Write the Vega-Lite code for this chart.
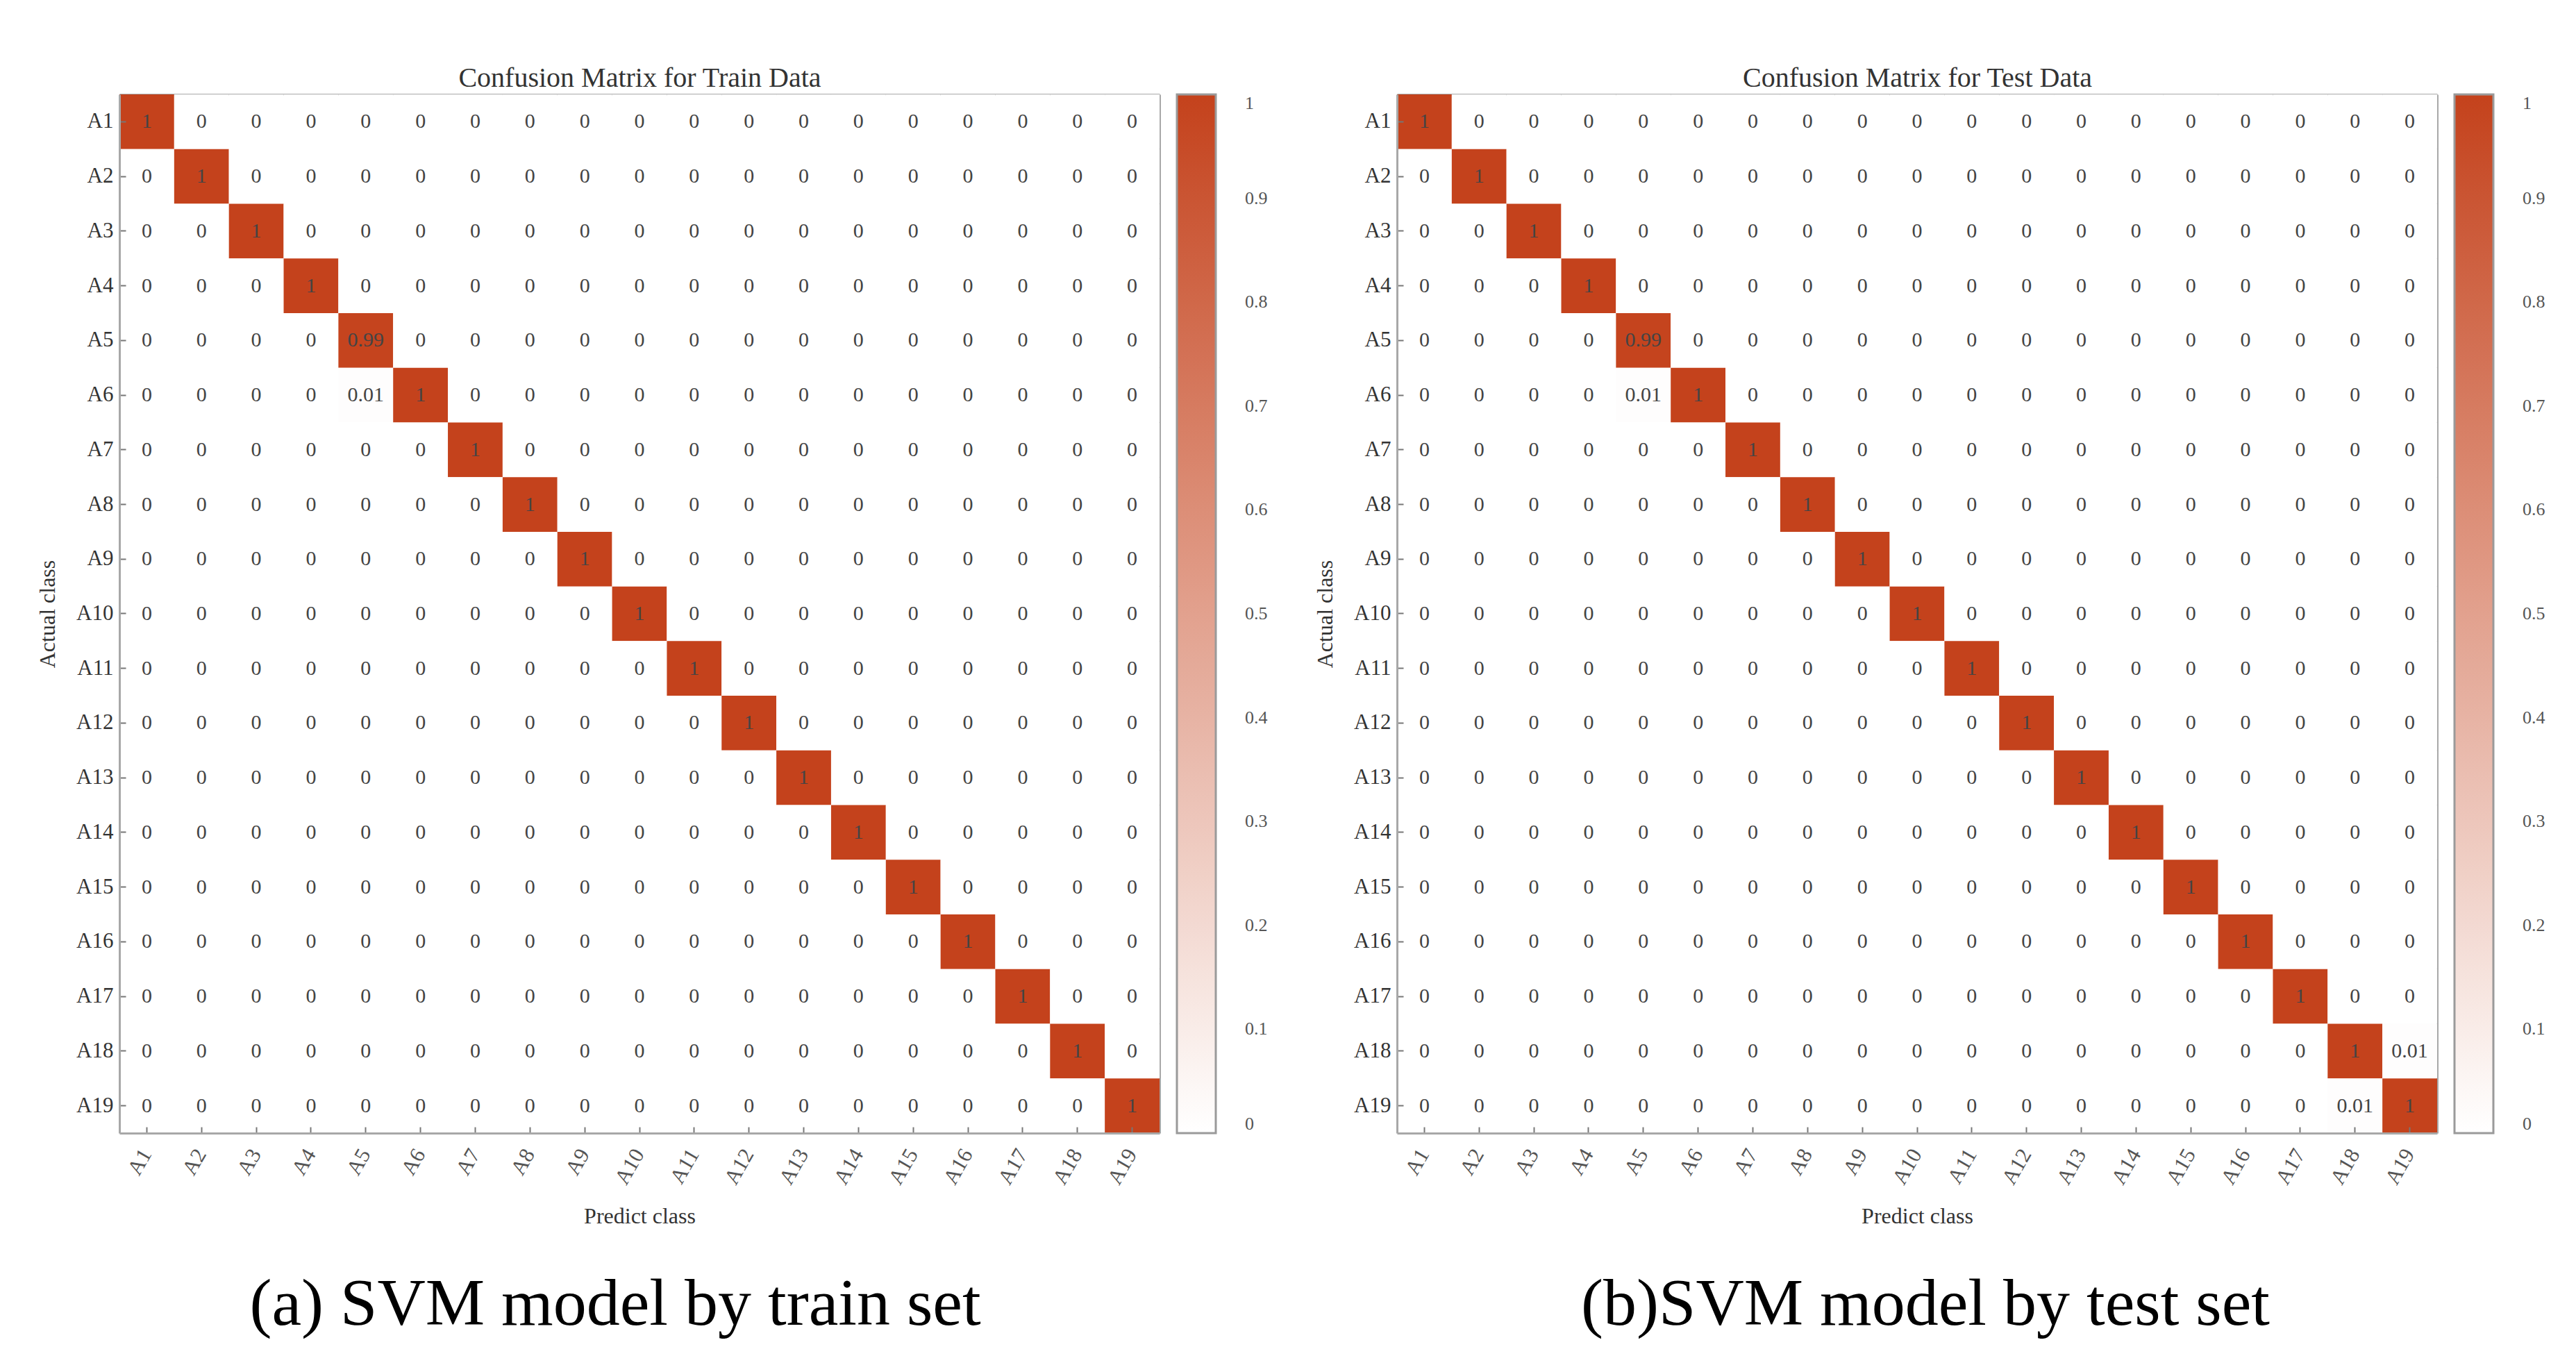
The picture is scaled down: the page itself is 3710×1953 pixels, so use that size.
{
"$schema":"https://vega.github.io/schema/vega-lite/v6.json",
"background":"white",
"padding":{"left":52,"top":92,"right":5,"bottom":5},
"config":{
"font":"Liberation Serif",
"view":{"stroke":null},
"axis":{"labelFont":"Liberation Serif","titleFont":"Liberation Serif","labelFontSize":31,"titleFontSize":32,"labelColor":"#333","titleColor":"#333","titleFontWeight":"normal","domainColor":"#a8a8a8","domainWidth":3,"tickColor":"#777","tickWidth":2,"tickSize":-9,"grid":false,"labelPadding":18},
"legend":{"gradientVerticalMaxLength":2000,"gradientVerticalMinLength":10,"labelFont":"Liberation Serif","labelFontSize":26,"labelColor":"#555","gradientStrokeColor":"#9a9a9a","gradientStrokeWidth":3,"labelOverlap":false,"offset":24}
},
"datasets":{"cells":[
{"act":"A1","pred":"A1","train":1,"test":1},{"act":"A1","pred":"A2","train":0,"test":0},{"act":"A1","pred":"A3","train":0,"test":0},{"act":"A1","pred":"A4","train":0,"test":0},{"act":"A1","pred":"A5","train":0,"test":0},{"act":"A1","pred":"A6","train":0,"test":0},{"act":"A1","pred":"A7","train":0,"test":0},{"act":"A1","pred":"A8","train":0,"test":0},{"act":"A1","pred":"A9","train":0,"test":0},{"act":"A1","pred":"A10","train":0,"test":0},{"act":"A1","pred":"A11","train":0,"test":0},{"act":"A1","pred":"A12","train":0,"test":0},{"act":"A1","pred":"A13","train":0,"test":0},{"act":"A1","pred":"A14","train":0,"test":0},{"act":"A1","pred":"A15","train":0,"test":0},{"act":"A1","pred":"A16","train":0,"test":0},{"act":"A1","pred":"A17","train":0,"test":0},{"act":"A1","pred":"A18","train":0,"test":0},{"act":"A1","pred":"A19","train":0,"test":0},
{"act":"A2","pred":"A1","train":0,"test":0},{"act":"A2","pred":"A2","train":1,"test":1},{"act":"A2","pred":"A3","train":0,"test":0},{"act":"A2","pred":"A4","train":0,"test":0},{"act":"A2","pred":"A5","train":0,"test":0},{"act":"A2","pred":"A6","train":0,"test":0},{"act":"A2","pred":"A7","train":0,"test":0},{"act":"A2","pred":"A8","train":0,"test":0},{"act":"A2","pred":"A9","train":0,"test":0},{"act":"A2","pred":"A10","train":0,"test":0},{"act":"A2","pred":"A11","train":0,"test":0},{"act":"A2","pred":"A12","train":0,"test":0},{"act":"A2","pred":"A13","train":0,"test":0},{"act":"A2","pred":"A14","train":0,"test":0},{"act":"A2","pred":"A15","train":0,"test":0},{"act":"A2","pred":"A16","train":0,"test":0},{"act":"A2","pred":"A17","train":0,"test":0},{"act":"A2","pred":"A18","train":0,"test":0},{"act":"A2","pred":"A19","train":0,"test":0},
{"act":"A3","pred":"A1","train":0,"test":0},{"act":"A3","pred":"A2","train":0,"test":0},{"act":"A3","pred":"A3","train":1,"test":1},{"act":"A3","pred":"A4","train":0,"test":0},{"act":"A3","pred":"A5","train":0,"test":0},{"act":"A3","pred":"A6","train":0,"test":0},{"act":"A3","pred":"A7","train":0,"test":0},{"act":"A3","pred":"A8","train":0,"test":0},{"act":"A3","pred":"A9","train":0,"test":0},{"act":"A3","pred":"A10","train":0,"test":0},{"act":"A3","pred":"A11","train":0,"test":0},{"act":"A3","pred":"A12","train":0,"test":0},{"act":"A3","pred":"A13","train":0,"test":0},{"act":"A3","pred":"A14","train":0,"test":0},{"act":"A3","pred":"A15","train":0,"test":0},{"act":"A3","pred":"A16","train":0,"test":0},{"act":"A3","pred":"A17","train":0,"test":0},{"act":"A3","pred":"A18","train":0,"test":0},{"act":"A3","pred":"A19","train":0,"test":0},
{"act":"A4","pred":"A1","train":0,"test":0},{"act":"A4","pred":"A2","train":0,"test":0},{"act":"A4","pred":"A3","train":0,"test":0},{"act":"A4","pred":"A4","train":1,"test":1},{"act":"A4","pred":"A5","train":0,"test":0},{"act":"A4","pred":"A6","train":0,"test":0},{"act":"A4","pred":"A7","train":0,"test":0},{"act":"A4","pred":"A8","train":0,"test":0},{"act":"A4","pred":"A9","train":0,"test":0},{"act":"A4","pred":"A10","train":0,"test":0},{"act":"A4","pred":"A11","train":0,"test":0},{"act":"A4","pred":"A12","train":0,"test":0},{"act":"A4","pred":"A13","train":0,"test":0},{"act":"A4","pred":"A14","train":0,"test":0},{"act":"A4","pred":"A15","train":0,"test":0},{"act":"A4","pred":"A16","train":0,"test":0},{"act":"A4","pred":"A17","train":0,"test":0},{"act":"A4","pred":"A18","train":0,"test":0},{"act":"A4","pred":"A19","train":0,"test":0},
{"act":"A5","pred":"A1","train":0,"test":0},{"act":"A5","pred":"A2","train":0,"test":0},{"act":"A5","pred":"A3","train":0,"test":0},{"act":"A5","pred":"A4","train":0,"test":0},{"act":"A5","pred":"A5","train":0.99,"test":0.99},{"act":"A5","pred":"A6","train":0,"test":0},{"act":"A5","pred":"A7","train":0,"test":0},{"act":"A5","pred":"A8","train":0,"test":0},{"act":"A5","pred":"A9","train":0,"test":0},{"act":"A5","pred":"A10","train":0,"test":0},{"act":"A5","pred":"A11","train":0,"test":0},{"act":"A5","pred":"A12","train":0,"test":0},{"act":"A5","pred":"A13","train":0,"test":0},{"act":"A5","pred":"A14","train":0,"test":0},{"act":"A5","pred":"A15","train":0,"test":0},{"act":"A5","pred":"A16","train":0,"test":0},{"act":"A5","pred":"A17","train":0,"test":0},{"act":"A5","pred":"A18","train":0,"test":0},{"act":"A5","pred":"A19","train":0,"test":0},
{"act":"A6","pred":"A1","train":0,"test":0},{"act":"A6","pred":"A2","train":0,"test":0},{"act":"A6","pred":"A3","train":0,"test":0},{"act":"A6","pred":"A4","train":0,"test":0},{"act":"A6","pred":"A5","train":0.01,"test":0.01},{"act":"A6","pred":"A6","train":1,"test":1},{"act":"A6","pred":"A7","train":0,"test":0},{"act":"A6","pred":"A8","train":0,"test":0},{"act":"A6","pred":"A9","train":0,"test":0},{"act":"A6","pred":"A10","train":0,"test":0},{"act":"A6","pred":"A11","train":0,"test":0},{"act":"A6","pred":"A12","train":0,"test":0},{"act":"A6","pred":"A13","train":0,"test":0},{"act":"A6","pred":"A14","train":0,"test":0},{"act":"A6","pred":"A15","train":0,"test":0},{"act":"A6","pred":"A16","train":0,"test":0},{"act":"A6","pred":"A17","train":0,"test":0},{"act":"A6","pred":"A18","train":0,"test":0},{"act":"A6","pred":"A19","train":0,"test":0},
{"act":"A7","pred":"A1","train":0,"test":0},{"act":"A7","pred":"A2","train":0,"test":0},{"act":"A7","pred":"A3","train":0,"test":0},{"act":"A7","pred":"A4","train":0,"test":0},{"act":"A7","pred":"A5","train":0,"test":0},{"act":"A7","pred":"A6","train":0,"test":0},{"act":"A7","pred":"A7","train":1,"test":1},{"act":"A7","pred":"A8","train":0,"test":0},{"act":"A7","pred":"A9","train":0,"test":0},{"act":"A7","pred":"A10","train":0,"test":0},{"act":"A7","pred":"A11","train":0,"test":0},{"act":"A7","pred":"A12","train":0,"test":0},{"act":"A7","pred":"A13","train":0,"test":0},{"act":"A7","pred":"A14","train":0,"test":0},{"act":"A7","pred":"A15","train":0,"test":0},{"act":"A7","pred":"A16","train":0,"test":0},{"act":"A7","pred":"A17","train":0,"test":0},{"act":"A7","pred":"A18","train":0,"test":0},{"act":"A7","pred":"A19","train":0,"test":0},
{"act":"A8","pred":"A1","train":0,"test":0},{"act":"A8","pred":"A2","train":0,"test":0},{"act":"A8","pred":"A3","train":0,"test":0},{"act":"A8","pred":"A4","train":0,"test":0},{"act":"A8","pred":"A5","train":0,"test":0},{"act":"A8","pred":"A6","train":0,"test":0},{"act":"A8","pred":"A7","train":0,"test":0},{"act":"A8","pred":"A8","train":1,"test":1},{"act":"A8","pred":"A9","train":0,"test":0},{"act":"A8","pred":"A10","train":0,"test":0},{"act":"A8","pred":"A11","train":0,"test":0},{"act":"A8","pred":"A12","train":0,"test":0},{"act":"A8","pred":"A13","train":0,"test":0},{"act":"A8","pred":"A14","train":0,"test":0},{"act":"A8","pred":"A15","train":0,"test":0},{"act":"A8","pred":"A16","train":0,"test":0},{"act":"A8","pred":"A17","train":0,"test":0},{"act":"A8","pred":"A18","train":0,"test":0},{"act":"A8","pred":"A19","train":0,"test":0},
{"act":"A9","pred":"A1","train":0,"test":0},{"act":"A9","pred":"A2","train":0,"test":0},{"act":"A9","pred":"A3","train":0,"test":0},{"act":"A9","pred":"A4","train":0,"test":0},{"act":"A9","pred":"A5","train":0,"test":0},{"act":"A9","pred":"A6","train":0,"test":0},{"act":"A9","pred":"A7","train":0,"test":0},{"act":"A9","pred":"A8","train":0,"test":0},{"act":"A9","pred":"A9","train":1,"test":1},{"act":"A9","pred":"A10","train":0,"test":0},{"act":"A9","pred":"A11","train":0,"test":0},{"act":"A9","pred":"A12","train":0,"test":0},{"act":"A9","pred":"A13","train":0,"test":0},{"act":"A9","pred":"A14","train":0,"test":0},{"act":"A9","pred":"A15","train":0,"test":0},{"act":"A9","pred":"A16","train":0,"test":0},{"act":"A9","pred":"A17","train":0,"test":0},{"act":"A9","pred":"A18","train":0,"test":0},{"act":"A9","pred":"A19","train":0,"test":0},
{"act":"A10","pred":"A1","train":0,"test":0},{"act":"A10","pred":"A2","train":0,"test":0},{"act":"A10","pred":"A3","train":0,"test":0},{"act":"A10","pred":"A4","train":0,"test":0},{"act":"A10","pred":"A5","train":0,"test":0},{"act":"A10","pred":"A6","train":0,"test":0},{"act":"A10","pred":"A7","train":0,"test":0},{"act":"A10","pred":"A8","train":0,"test":0},{"act":"A10","pred":"A9","train":0,"test":0},{"act":"A10","pred":"A10","train":1,"test":1},{"act":"A10","pred":"A11","train":0,"test":0},{"act":"A10","pred":"A12","train":0,"test":0},{"act":"A10","pred":"A13","train":0,"test":0},{"act":"A10","pred":"A14","train":0,"test":0},{"act":"A10","pred":"A15","train":0,"test":0},{"act":"A10","pred":"A16","train":0,"test":0},{"act":"A10","pred":"A17","train":0,"test":0},{"act":"A10","pred":"A18","train":0,"test":0},{"act":"A10","pred":"A19","train":0,"test":0},
{"act":"A11","pred":"A1","train":0,"test":0},{"act":"A11","pred":"A2","train":0,"test":0},{"act":"A11","pred":"A3","train":0,"test":0},{"act":"A11","pred":"A4","train":0,"test":0},{"act":"A11","pred":"A5","train":0,"test":0},{"act":"A11","pred":"A6","train":0,"test":0},{"act":"A11","pred":"A7","train":0,"test":0},{"act":"A11","pred":"A8","train":0,"test":0},{"act":"A11","pred":"A9","train":0,"test":0},{"act":"A11","pred":"A10","train":0,"test":0},{"act":"A11","pred":"A11","train":1,"test":1},{"act":"A11","pred":"A12","train":0,"test":0},{"act":"A11","pred":"A13","train":0,"test":0},{"act":"A11","pred":"A14","train":0,"test":0},{"act":"A11","pred":"A15","train":0,"test":0},{"act":"A11","pred":"A16","train":0,"test":0},{"act":"A11","pred":"A17","train":0,"test":0},{"act":"A11","pred":"A18","train":0,"test":0},{"act":"A11","pred":"A19","train":0,"test":0},
{"act":"A12","pred":"A1","train":0,"test":0},{"act":"A12","pred":"A2","train":0,"test":0},{"act":"A12","pred":"A3","train":0,"test":0},{"act":"A12","pred":"A4","train":0,"test":0},{"act":"A12","pred":"A5","train":0,"test":0},{"act":"A12","pred":"A6","train":0,"test":0},{"act":"A12","pred":"A7","train":0,"test":0},{"act":"A12","pred":"A8","train":0,"test":0},{"act":"A12","pred":"A9","train":0,"test":0},{"act":"A12","pred":"A10","train":0,"test":0},{"act":"A12","pred":"A11","train":0,"test":0},{"act":"A12","pred":"A12","train":1,"test":1},{"act":"A12","pred":"A13","train":0,"test":0},{"act":"A12","pred":"A14","train":0,"test":0},{"act":"A12","pred":"A15","train":0,"test":0},{"act":"A12","pred":"A16","train":0,"test":0},{"act":"A12","pred":"A17","train":0,"test":0},{"act":"A12","pred":"A18","train":0,"test":0},{"act":"A12","pred":"A19","train":0,"test":0},
{"act":"A13","pred":"A1","train":0,"test":0},{"act":"A13","pred":"A2","train":0,"test":0},{"act":"A13","pred":"A3","train":0,"test":0},{"act":"A13","pred":"A4","train":0,"test":0},{"act":"A13","pred":"A5","train":0,"test":0},{"act":"A13","pred":"A6","train":0,"test":0},{"act":"A13","pred":"A7","train":0,"test":0},{"act":"A13","pred":"A8","train":0,"test":0},{"act":"A13","pred":"A9","train":0,"test":0},{"act":"A13","pred":"A10","train":0,"test":0},{"act":"A13","pred":"A11","train":0,"test":0},{"act":"A13","pred":"A12","train":0,"test":0},{"act":"A13","pred":"A13","train":1,"test":1},{"act":"A13","pred":"A14","train":0,"test":0},{"act":"A13","pred":"A15","train":0,"test":0},{"act":"A13","pred":"A16","train":0,"test":0},{"act":"A13","pred":"A17","train":0,"test":0},{"act":"A13","pred":"A18","train":0,"test":0},{"act":"A13","pred":"A19","train":0,"test":0},
{"act":"A14","pred":"A1","train":0,"test":0},{"act":"A14","pred":"A2","train":0,"test":0},{"act":"A14","pred":"A3","train":0,"test":0},{"act":"A14","pred":"A4","train":0,"test":0},{"act":"A14","pred":"A5","train":0,"test":0},{"act":"A14","pred":"A6","train":0,"test":0},{"act":"A14","pred":"A7","train":0,"test":0},{"act":"A14","pred":"A8","train":0,"test":0},{"act":"A14","pred":"A9","train":0,"test":0},{"act":"A14","pred":"A10","train":0,"test":0},{"act":"A14","pred":"A11","train":0,"test":0},{"act":"A14","pred":"A12","train":0,"test":0},{"act":"A14","pred":"A13","train":0,"test":0},{"act":"A14","pred":"A14","train":1,"test":1},{"act":"A14","pred":"A15","train":0,"test":0},{"act":"A14","pred":"A16","train":0,"test":0},{"act":"A14","pred":"A17","train":0,"test":0},{"act":"A14","pred":"A18","train":0,"test":0},{"act":"A14","pred":"A19","train":0,"test":0},
{"act":"A15","pred":"A1","train":0,"test":0},{"act":"A15","pred":"A2","train":0,"test":0},{"act":"A15","pred":"A3","train":0,"test":0},{"act":"A15","pred":"A4","train":0,"test":0},{"act":"A15","pred":"A5","train":0,"test":0},{"act":"A15","pred":"A6","train":0,"test":0},{"act":"A15","pred":"A7","train":0,"test":0},{"act":"A15","pred":"A8","train":0,"test":0},{"act":"A15","pred":"A9","train":0,"test":0},{"act":"A15","pred":"A10","train":0,"test":0},{"act":"A15","pred":"A11","train":0,"test":0},{"act":"A15","pred":"A12","train":0,"test":0},{"act":"A15","pred":"A13","train":0,"test":0},{"act":"A15","pred":"A14","train":0,"test":0},{"act":"A15","pred":"A15","train":1,"test":1},{"act":"A15","pred":"A16","train":0,"test":0},{"act":"A15","pred":"A17","train":0,"test":0},{"act":"A15","pred":"A18","train":0,"test":0},{"act":"A15","pred":"A19","train":0,"test":0},
{"act":"A16","pred":"A1","train":0,"test":0},{"act":"A16","pred":"A2","train":0,"test":0},{"act":"A16","pred":"A3","train":0,"test":0},{"act":"A16","pred":"A4","train":0,"test":0},{"act":"A16","pred":"A5","train":0,"test":0},{"act":"A16","pred":"A6","train":0,"test":0},{"act":"A16","pred":"A7","train":0,"test":0},{"act":"A16","pred":"A8","train":0,"test":0},{"act":"A16","pred":"A9","train":0,"test":0},{"act":"A16","pred":"A10","train":0,"test":0},{"act":"A16","pred":"A11","train":0,"test":0},{"act":"A16","pred":"A12","train":0,"test":0},{"act":"A16","pred":"A13","train":0,"test":0},{"act":"A16","pred":"A14","train":0,"test":0},{"act":"A16","pred":"A15","train":0,"test":0},{"act":"A16","pred":"A16","train":1,"test":1},{"act":"A16","pred":"A17","train":0,"test":0},{"act":"A16","pred":"A18","train":0,"test":0},{"act":"A16","pred":"A19","train":0,"test":0},
{"act":"A17","pred":"A1","train":0,"test":0},{"act":"A17","pred":"A2","train":0,"test":0},{"act":"A17","pred":"A3","train":0,"test":0},{"act":"A17","pred":"A4","train":0,"test":0},{"act":"A17","pred":"A5","train":0,"test":0},{"act":"A17","pred":"A6","train":0,"test":0},{"act":"A17","pred":"A7","train":0,"test":0},{"act":"A17","pred":"A8","train":0,"test":0},{"act":"A17","pred":"A9","train":0,"test":0},{"act":"A17","pred":"A10","train":0,"test":0},{"act":"A17","pred":"A11","train":0,"test":0},{"act":"A17","pred":"A12","train":0,"test":0},{"act":"A17","pred":"A13","train":0,"test":0},{"act":"A17","pred":"A14","train":0,"test":0},{"act":"A17","pred":"A15","train":0,"test":0},{"act":"A17","pred":"A16","train":0,"test":0},{"act":"A17","pred":"A17","train":1,"test":1},{"act":"A17","pred":"A18","train":0,"test":0},{"act":"A17","pred":"A19","train":0,"test":0},
{"act":"A18","pred":"A1","train":0,"test":0},{"act":"A18","pred":"A2","train":0,"test":0},{"act":"A18","pred":"A3","train":0,"test":0},{"act":"A18","pred":"A4","train":0,"test":0},{"act":"A18","pred":"A5","train":0,"test":0},{"act":"A18","pred":"A6","train":0,"test":0},{"act":"A18","pred":"A7","train":0,"test":0},{"act":"A18","pred":"A8","train":0,"test":0},{"act":"A18","pred":"A9","train":0,"test":0},{"act":"A18","pred":"A10","train":0,"test":0},{"act":"A18","pred":"A11","train":0,"test":0},{"act":"A18","pred":"A12","train":0,"test":0},{"act":"A18","pred":"A13","train":0,"test":0},{"act":"A18","pred":"A14","train":0,"test":0},{"act":"A18","pred":"A15","train":0,"test":0},{"act":"A18","pred":"A16","train":0,"test":0},{"act":"A18","pred":"A17","train":0,"test":0},{"act":"A18","pred":"A18","train":1,"test":1},{"act":"A18","pred":"A19","train":0,"test":0.01},
{"act":"A19","pred":"A1","train":0,"test":0},{"act":"A19","pred":"A2","train":0,"test":0},{"act":"A19","pred":"A3","train":0,"test":0},{"act":"A19","pred":"A4","train":0,"test":0},{"act":"A19","pred":"A5","train":0,"test":0},{"act":"A19","pred":"A6","train":0,"test":0},{"act":"A19","pred":"A7","train":0,"test":0},{"act":"A19","pred":"A8","train":0,"test":0},{"act":"A19","pred":"A9","train":0,"test":0},{"act":"A19","pred":"A10","train":0,"test":0},{"act":"A19","pred":"A11","train":0,"test":0},{"act":"A19","pred":"A12","train":0,"test":0},{"act":"A19","pred":"A13","train":0,"test":0},{"act":"A19","pred":"A14","train":0,"test":0},{"act":"A19","pred":"A15","train":0,"test":0},{"act":"A19","pred":"A16","train":0,"test":0},{"act":"A19","pred":"A17","train":0,"test":0},{"act":"A19","pred":"A18","train":0,"test":0.01},{"act":"A19","pred":"A19","train":1,"test":1}
]},
"data":{"name":"cells"},
"resolve":{"scale":{"color":"independent"}},
"spacing":66,
"hconcat":[
{"width":1498,"height":1496,
"title":{"text":"(a) SVM model by train set","orient":"bottom","font":"Liberation Serif","fontSize":96,"fontWeight":"normal","color":"#000","offset":64,"dx":-35},
"resolve":{"axis":{"x":"independent","y":"independent"}},
"layer":[
{"mark":{"type":"rect"},
"encoding":{
"x":{"field":"pred","type":"nominal","scale":{"domain":["A1","A2","A3","A4","A5","A6","A7","A8","A9","A10","A11","A12","A13","A14","A15","A16","A17","A18","A19"],"paddingInner":0,"paddingOuter":0},"axis":{"orient":"bottom","title":"Predict class","labelAngle":-60,"labelColor":"#555","labelPadding":34,"titlePadding":26}},
"y":{"field":"act","type":"nominal","scale":{"domain":["A1","A2","A3","A4","A5","A6","A7","A8","A9","A10","A11","A12","A13","A14","A15","A16","A17","A18","A19"],"paddingInner":0,"paddingOuter":0},"axis":{"orient":"left","title":"Actual class","titlePadding":24}},
"color":{"field":"train","type":"quantitative","scale":{"type":"linear","domain":[0,1],"range":["#ffffff","#c4421c"],"interpolate":"rgb"},"legend":{"title":null,"type":"gradient","direction":"vertical","gradientLength":1496,"gradientThickness":56,"labelOffset":42,"format":"~g","values":[0,0.1,0.2,0.3,0.4,0.5,0.6,0.7,0.8,0.9,1]}}
}},
{"mark":{"type":"text","fontSize":30,"color":"#444","font":"Liberation Serif"},
"encoding":{
"x":{"field":"pred","type":"nominal","axis":{"orient":"top","title":"Confusion Matrix for Train Data","labels":false,"titleFontSize":40,"titlePadding":3}},
"y":{"field":"act","type":"nominal","axis":{"orient":"right","title":null,"labels":false}},
"text":{"field":"train","type":"quantitative"}
}}
]},
{"width":1498,"height":1496,
"title":{"text":"(b)SVM model by test set","orient":"bottom","font":"Liberation Serif","fontSize":96,"fontWeight":"normal","color":"#000","offset":64,"dx":12},
"resolve":{"axis":{"x":"independent","y":"independent"}},
"layer":[
{"mark":{"type":"rect"},
"encoding":{
"x":{"field":"pred","type":"nominal","scale":{"domain":["A1","A2","A3","A4","A5","A6","A7","A8","A9","A10","A11","A12","A13","A14","A15","A16","A17","A18","A19"],"paddingInner":0,"paddingOuter":0},"axis":{"orient":"bottom","title":"Predict class","labelAngle":-60,"labelColor":"#555","labelPadding":34,"titlePadding":26}},
"y":{"field":"act","type":"nominal","scale":{"domain":["A1","A2","A3","A4","A5","A6","A7","A8","A9","A10","A11","A12","A13","A14","A15","A16","A17","A18","A19"],"paddingInner":0,"paddingOuter":0},"axis":{"orient":"left","title":"Actual class","titlePadding":24}},
"color":{"field":"test","type":"quantitative","scale":{"type":"linear","domain":[0,1],"range":["#ffffff","#c4421c"],"interpolate":"rgb"},"legend":{"title":null,"type":"gradient","direction":"vertical","gradientLength":1496,"gradientThickness":56,"labelOffset":42,"format":"~g","values":[0,0.1,0.2,0.3,0.4,0.5,0.6,0.7,0.8,0.9,1]}}
}},
{"mark":{"type":"text","fontSize":30,"color":"#444","font":"Liberation Serif"},
"encoding":{
"x":{"field":"pred","type":"nominal","axis":{"orient":"top","title":"Confusion Matrix for Test Data","labels":false,"titleFontSize":40,"titlePadding":3}},
"y":{"field":"act","type":"nominal","axis":{"orient":"right","title":null,"labels":false}},
"text":{"field":"test","type":"quantitative"}
}}
]}
]
}
